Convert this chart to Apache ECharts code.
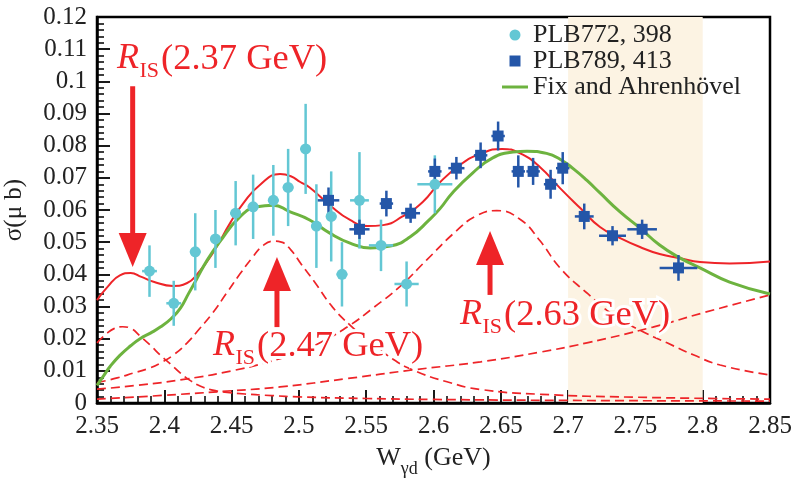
<!DOCTYPE html>
<html>
<head>
<meta charset="utf-8">
<script src="https://cdn.jsdelivr.net/npm/echarts@6/dist/echarts.min.js"></script>
<style>html,body{margin:0;padding:0;background:#fff}#chart{width:794px;height:478px}</style>
</head>
<body>
<div id="chart"></div>
<script>
// PLB772, 398 (cyan circles)
var cyanX  = [2.389, 2.407, 2.423, 2.438, 2.453, 2.466, 2.481, 2.492, 2.505, 2.513, 2.524, 2.532, 2.545, 2.561, 2.580, 2.601];
var cyanY  = [0.041, 0.031, 0.047, 0.051, 0.059, 0.061, 0.063, 0.067, 0.079, 0.055, 0.058, 0.040, 0.063, 0.049, 0.037, 0.068];
var cyanEx = [0.0055, 0.0055, 0.004, 0.004, 0.004, 0.004, 0.004, 0.004, 0.004, 0.004, 0.004, 0.004, 0.007, 0.009, 0.009, 0.013];
var cyanEy = [0.008, 0.007, 0.012, 0.009, 0.010, 0.010, 0.011, 0.012, 0.014, 0.013, 0.014, 0.010, 0.015, 0.008, 0.007, 0.009];

// PLB789, 413 (blue squares)
var blueX  = [2.522, 2.545, 2.565, 2.583, 2.601, 2.617, 2.635, 2.648, 2.663, 2.674, 2.687, 2.696, 2.712, 2.733, 2.755, 2.782];
var blueY  = [0.063, 0.054, 0.062, 0.059, 0.072, 0.073, 0.077, 0.083, 0.072, 0.072, 0.068, 0.073, 0.058, 0.052, 0.054, 0.042];
var blueEx = [0.008, 0.0075, 0.005, 0.007, 0.005, 0.006, 0.005, 0.005, 0.005, 0.005, 0.005, 0.005, 0.007, 0.010, 0.011, 0.014];
var blueEy = [0.004, 0.003, 0.004, 0.003, 0.004, 0.0035, 0.004, 0.0045, 0.005, 0.0042, 0.0045, 0.005, 0.004, 0.003, 0.003, 0.004];

// fit curves [W, sigma]
var fitTotal = [[2.35,0.032],[2.358,0.0362],[2.367,0.0397],[2.375,0.0404],[2.383,0.0392],[2.392,0.0377],[2.4065,0.0364],[2.417,0.0373],[2.424,0.0398],[2.436,0.0466],[2.449,0.056],[2.4585,0.062],[2.471,0.0678],[2.486,0.0712],[2.494,0.0705],[2.501,0.0687],[2.508,0.067],[2.523,0.0615],[2.538,0.0569],[2.551,0.055],[2.5625,0.0553],[2.577,0.058],[2.592,0.0625],[2.605,0.0687],[2.6197,0.074],[2.6345,0.0774],[2.651,0.079],[2.664,0.0777],[2.679,0.0734],[2.694,0.0668],[2.709,0.0606],[2.7237,0.0547],[2.7386,0.0513],[2.7534,0.0485],[2.768,0.0463],[2.783,0.045],[2.798,0.0438],[2.82,0.0434],[2.85,0.044]];
var fitFix = [[2.35,0.0055],[2.355,0.0085],[2.36,0.0115],[2.367,0.0148],[2.375,0.0178],[2.382,0.02],[2.39,0.0218],[2.397,0.0236],[2.405,0.0262],[2.412,0.0295],[2.418,0.034],[2.424,0.0385],[2.432,0.0445],[2.441,0.05],[2.456,0.0578],[2.469,0.061],[2.481,0.0615],[2.493,0.0595],[2.508,0.0569],[2.523,0.0528],[2.538,0.0497],[2.553,0.0482],[2.568,0.0488],[2.5825,0.0516],[2.597,0.057],[2.605,0.0605],[2.614,0.0653],[2.629,0.0715],[2.644,0.0762],[2.659,0.078],[2.6695,0.0783],[2.684,0.0776],[2.694,0.0758],[2.704,0.0728],[2.714,0.0692],[2.7237,0.0653],[2.7386,0.0594],[2.7534,0.0544],[2.768,0.0491],[2.783,0.0451],[2.798,0.042],[2.82,0.0376],[2.85,0.0339]];
var res237 = [[2.35,0.0187],[2.357,0.0215],[2.363,0.0232],[2.369,0.0237],[2.375,0.0232],[2.382,0.0208],[2.39,0.0178],[2.397,0.0149],[2.405,0.012],[2.412,0.0093],[2.42,0.0068],[2.427,0.0052],[2.435,0.0041],[2.445,0.0034],[2.46,0.0028],[2.48,0.0023],[2.5,0.0019],[2.55,0.0014],[2.6,0.0011],[2.7,0.0008],[2.85,0.0006]];
var res247 = [[2.35,0.0063],[2.365,0.0078],[2.377,0.0093],[2.388,0.0107],[2.397,0.0124],[2.407,0.015],[2.417,0.0187],[2.426,0.023],[2.436,0.028],[2.446,0.034],[2.456,0.04],[2.465,0.045],[2.473,0.0488],[2.481,0.0503],[2.487,0.05],[2.494,0.0476],[2.502,0.043],[2.511,0.038],[2.525,0.0298],[2.538,0.0242],[2.55,0.02],[2.57,0.0136],[2.585,0.0102],[2.61,0.0066],[2.635,0.0042],[2.68,0.0027],[2.75,0.0018],[2.85,0.0012]];
var res263 = [[2.35,0.0043],[2.38,0.0055],[2.417,0.0075],[2.45,0.01],[2.475,0.0125],[2.5,0.0158],[2.52,0.0197],[2.538,0.0242],[2.555,0.0295],[2.575,0.0362],[2.595,0.0445],[2.617,0.0535],[2.632,0.0582],[2.647,0.0598],[2.664,0.0572],[2.679,0.0505],[2.694,0.042],[2.714,0.0342],[2.7335,0.0274],[2.753,0.0227],[2.7735,0.0187],[2.793,0.015],[2.813,0.0118],[2.85,0.0087]];
var background = [[2.35,0.0012],[2.4,0.0024],[2.45,0.0038],[2.486,0.005],[2.536,0.0076],[2.585,0.0103],[2.635,0.0128],[2.679,0.0158],[2.714,0.0187],[2.763,0.0236],[2.8,0.028],[2.85,0.0336]];

var bandRange = [2.70, 2.80];
// arrows: [W, sigma tail, sigma tip]
var arrows = [[2.3765, 0.0985, 0.0423], [2.4837, 0.0236, 0.0454], [2.642, 0.0336, 0.0535]];
var labelText = ['(2.37 GeV)', '(2.47 GeV)', '(2.63 GeV)'];

var red = '#ee2428', green = '#6db33f', cyan = '#63c7d4', blue = '#2456a8';
var serif = "'Liberation Serif', 'Times New Roman', serif";

function zip4(a, b, c, d) {
    return a.map(function (v, i) { return [v, b[i], c[i], d[i]]; });
}

function errRender(color) {
    return function (params, api) {
        var x = api.value(0), y = api.value(1), ex = api.value(2), ey = api.value(3);
        var l = api.coord([x - ex, y]), r = api.coord([x + ex, y]);
        var t = api.coord([x, y + ey]), b = api.coord([x, y - ey]);
        return {
            type: 'group',
            children: [
                {type: 'line', shape: {x1: l[0], y1: l[1], x2: r[0], y2: r[1]}, style: {stroke: color, lineWidth: 2.5}},
                {type: 'line', shape: {x1: t[0], y1: t[1], x2: b[0], y2: b[1]}, style: {stroke: color, lineWidth: 2.5}}
            ]
        };
    };
}

function dashed(data) {
    return {
        type: 'line', data: data, smooth: true, symbol: 'none', z: 2, silent: true,
        lineStyle: {color: red, width: 1.7, type: [9, 5]}
    };
}

var chart = echarts.init(document.getElementById('chart'));
chart.setOption({
    animation: false,
    grid: {left: 97, right: 24, top: 17, bottom: 75, show: true, borderColor: '#000', borderWidth: 2.5,
        containLabel: false, outerBoundsMode: 'none'},
    legend: {
        data: [
            {name: 'PLB772, 398', icon: 'circle'},
            {name: 'PLB789, 413', icon: 'path://M0,0 L10,0 L10,10 L0,10 Z'},
            {name: 'Fix and Ahrenhövel', icon: 'path://M0,0 L26,0 L26,3 L0,3 Z'}
        ],
        orient: 'vertical', left: 502, top: 22, padding: 0,
        itemWidth: 26, itemHeight: 11, itemGap: 0, symbolKeepAspect: true,
        textStyle: {fontFamily: serif, fontSize: 26, color: '#222', lineHeight: 20}
    },
    xAxis: {
        type: 'value', min: 2.35, max: 2.85, interval: 0.05,
        name: '{a|W}{b|γd}{a| (GeV)}', nameLocation: 'middle', nameGap: 36,
        nameTextStyle: {
            rich: {
                a: {fontFamily: serif, fontSize: 26, color: '#222'},
                b: {fontFamily: serif, fontSize: 18, color: '#222', padding: [21, 0, 0, 0]}
            }
        },
        axisLine: {lineStyle: {color: '#000', width: 2.5}},
        axisTick: {inside: true, length: 13, lineStyle: {color: '#000', width: 1.8}},
        minorTick: {show: true, splitNumber: 5, length: 7, lineStyle: {color: '#000', width: 1.5}},
        splitLine: {show: false},
        axisLabel: {fontFamily: serif, fontSize: 25, color: '#222', margin: 11,
            formatter: function (v) { return String(+v.toFixed(2)); }}
    },
    yAxis: {
        type: 'value', min: 0, max: 0.12, interval: 0.01,
        name: 'σ(μ b)', nameLocation: 'middle', nameGap: 70,
        nameTextStyle: {fontFamily: serif, fontSize: 25, color: '#222'},
        axisLine: {lineStyle: {color: '#000', width: 2.5}},
        axisTick: {inside: true, length: 13, lineStyle: {color: '#000', width: 1.8}},
        minorTick: {show: true, splitNumber: 5, length: 7, lineStyle: {color: '#000', width: 1.5}},
        splitLine: {show: false},
        axisLabel: {fontFamily: serif, fontSize: 25, color: '#222', margin: 10,
            formatter: function (v) { return String(+v.toFixed(2)); }}
    },
    series: [
        {
            type: 'line', data: [], z: 1, silent: true,
            markArea: {silent: true, itemStyle: {color: '#fcf3e3'},
                data: [[{xAxis: bandRange[0]}, {xAxis: bandRange[1]}]]}
        },
        dashed(res237), dashed(res247), dashed(res263), dashed(background),
        {
            type: 'line', data: fitTotal, smooth: true, symbol: 'none', z: 3, silent: true,
            lineStyle: {color: red, width: 2}
        },
        {
            name: 'Fix and Ahrenhövel', type: 'line', data: fitFix, smooth: true, symbol: 'none', z: 3,
            itemStyle: {color: green}, lineStyle: {color: green, width: 3}
        },
        {type: 'custom', data: zip4(cyanX, cyanY, cyanEx, cyanEy), renderItem: errRender(cyan), encode: {x: 0, y: 1}, z: 4, silent: true},
        {type: 'custom', data: zip4(blueX, blueY, blueEx, blueEy), renderItem: errRender(blue), encode: {x: 0, y: 1}, z: 4, silent: true},
        {
            name: 'PLB772, 398', type: 'scatter', symbol: 'circle', symbolSize: 11, z: 5,
            itemStyle: {color: cyan, opacity: 1},
            data: cyanX.map(function (v, i) { return [v, cyanY[i]]; })
        },
        {
            name: 'PLB789, 413', type: 'scatter', symbol: 'rect', symbolSize: 11, z: 5,
            itemStyle: {color: blue, opacity: 1},
            data: blueX.map(function (v, i) { return [v, blueY[i]]; })
        }
    ]
});

// annotations: arrows and R_IS labels
var labelPos = [[117, 71], [213, 358], [460, 327]];
var gfx = [];
arrows.forEach(function (a) {
    var tail = chart.convertToPixel({gridIndex: 0}, [a[0], a[1]]);
    var tip = chart.convertToPixel({gridIndex: 0}, [a[0], a[2]]);
    var dir = tip[1] > tail[1] ? 1 : -1;
    var base = tip[1] - dir * 34;
    gfx.push({type: 'line', z: 100, shape: {x1: tail[0], y1: tail[1], x2: tip[0], y2: base}, style: {stroke: red, lineWidth: 5}});
    gfx.push({type: 'polygon', z: 100, shape: {points: [[tip[0] - 14, base], [tip[0] + 14, base], [tip[0], tip[1]]]}, style: {fill: red}});
});
labelPos.forEach(function (p, i) {
    var common = {fill: red, stroke: '#fff', lineWidth: 6, textAlign: 'left', align: 'left',
        textVerticalAlign: 'middle', verticalAlign: 'middle'};
    gfx.push({type: 'text', z: 101, style: Object.assign({text: 'R', x: p[0], y: p[1] - 12,
        font: 'italic 36px ' + serif}, common)});
    gfx.push({type: 'text', z: 101, style: Object.assign({text: 'IS', x: p[0] + 22.5, y: p[1] + 8 - 7.3,
        font: '22px ' + serif}, common)});
    gfx.push({type: 'text', z: 101, style: Object.assign({text: labelText[i], x: p[0] + 44, y: p[1] - 12,
        font: '36.5px ' + serif}, common)});
});
chart.setOption({graphic: {elements: gfx}});
</script>
</body>
</html>
